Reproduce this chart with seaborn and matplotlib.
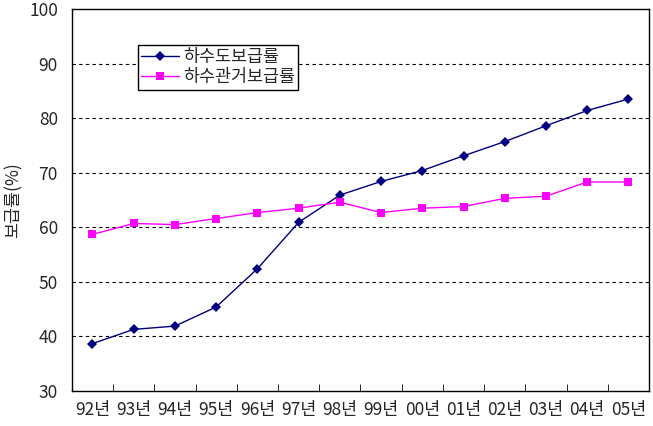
import pandas as pd
import seaborn as sns
import matplotlib.pyplot as plt
from matplotlib.ticker import FixedLocator

years = ["92년", "93년", "94년", "95년", "96년", "97년", "98년",
         "99년", "00년", "01년", "02년", "03년", "04년", "05년"]
sewerage = [38.7, 41.3, 41.9, 45.4, 52.4, 60.9, 65.9,
            68.4, 70.4, 73.1, 75.7, 78.6, 81.4, 83.5]
pipes = [58.7, 60.7, 60.5, 61.6, 62.7, 63.5, 64.6,
         62.7, 63.5, 63.8, 65.3, 65.7, 68.3, 68.3]
series_names = ["하수도보급률", "하수관거보급률"]

df = pd.DataFrame({
    "year": years * 2,
    "rate": sewerage + pipes,
    "series": [series_names[0]] * len(years) + [series_names[1]] * len(years),
})

sns.set_style("white")
plt.rcParams["font.family"] = ["Noto Sans CJK KR", "DejaVu Sans"]

fig = plt.figure(figsize=(6.53, 4.26), dpi=100)
ax = fig.add_axes([0.110, 0.082, 0.884, 0.897])

sns.lineplot(data=df, x="year", y="rate", hue="series", style="series",
             palette=["#000080", "#FF00FF"], markers=["D", "s"], dashes=False,
             markersize=5.5, linewidth=1, markeredgewidth=0, ax=ax)

ax.set_xlim(-0.5, len(years) - 0.5)
ax.set_ylim(30, 100)
ax.set_yticks(range(30, 101, 10))
ax.set_xticks(range(len(years)))
ax.set_xticklabels(years)
ax.xaxis.set_minor_locator(FixedLocator([i + 0.5 for i in range(len(years) - 1)]))
ax.tick_params(axis="x", which="major", length=0, pad=7, labelsize=12.5)
ax.tick_params(axis="x", which="minor", length=5, direction="in", color="black", bottom=True)
ax.tick_params(axis="y", length=0, pad=10, labelsize=12.5)

for y in range(40, 100, 10):
    ax.axhline(y, color="black", linestyle=(0, (3, 3)), linewidth=0.8, zorder=0)

for s in ax.spines.values():
    s.set_visible(True)
    s.set_color("black")
    s.set_linewidth(1)

ax.set_xlabel("")
ax.set_ylabel("보급률(%)", fontsize=12.5)
ax.yaxis.set_label_coords(-0.085, 0.5)

leg = ax.legend(loc="upper left", bbox_to_anchor=(0.114, 0.906), fontsize=12.5,
                frameon=True, fancybox=False, edgecolor="black", framealpha=1,
                borderpad=0.2, labelspacing=0.1, handlelength=2.2, handletextpad=0.2,
                borderaxespad=0)
leg.get_frame().set_linewidth(1)

fig.savefig("out.png", dpi=100)
